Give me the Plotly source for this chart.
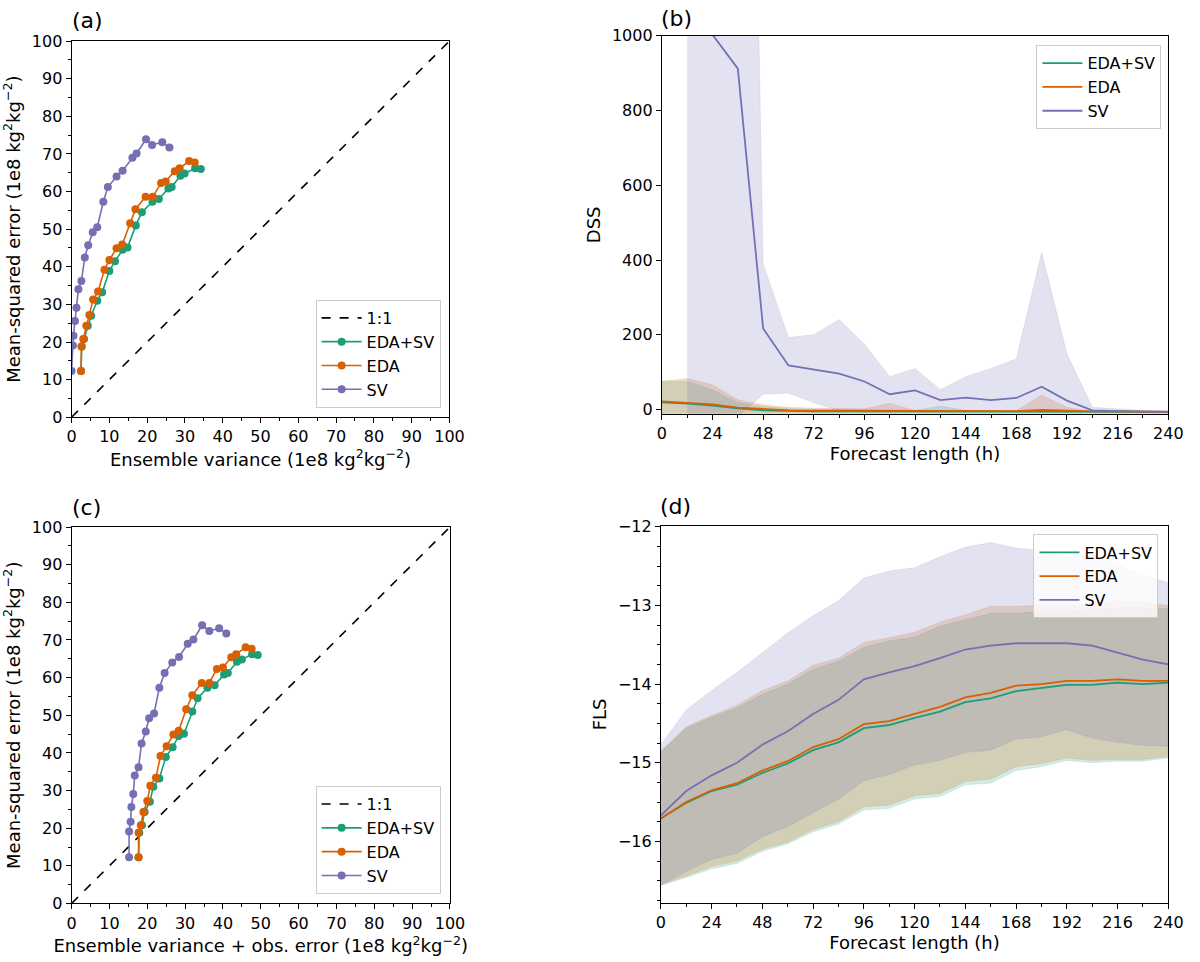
import plotly.graph_objects as go

# forecast lengths (h)
hours = [0, 12, 24, 36, 48, 60, 72, 84, 96, 108, 120, 132, 144, 156, 168, 180, 192, 204, 216, 228, 240]

# (a) mean-squared error vs ensemble variance (1e8 kg2 kg-2)
var_edasv = [2.5, 2.7, 3.3, 4.3, 5.2, 6.8, 8.1, 10.0, 11.5, 13.5, 14.8, 17.0, 18.6, 21.4, 23.1, 25.6, 26.5, 28.8, 29.9, 32.7, 34.2]
mse_edasv = [12.3, 18.8, 20.8, 24.3, 27.0, 31.0, 33.2, 38.9, 41.5, 44.5, 45.1, 51.0, 54.5, 57.3, 58.0, 60.8, 61.2, 64.2, 64.8, 66.2, 66.0]
var_eda = [2.5, 2.6, 3.1, 3.9, 4.7, 5.7, 7.0, 8.7, 10.0, 11.9, 13.4, 15.5, 16.9, 19.6, 21.5, 23.7, 24.9, 27.3, 28.6, 31.1, 32.6]
mse_eda = [12.3, 18.8, 20.8, 24.3, 27.2, 31.3, 33.4, 39.2, 41.8, 44.9, 45.9, 51.6, 55.3, 58.6, 58.6, 62.3, 62.7, 65.4, 66.2, 68.1, 67.7]
var_sv = [0.0, 0.35, 0.5, 0.9, 1.3, 1.8, 2.6, 3.5, 4.4, 5.6, 6.8, 8.4, 9.6, 11.9, 13.5, 16.1, 17.2, 19.7, 21.3, 24.0, 25.9]
mse_sv = [12.3, 19.1, 21.7, 25.6, 29.1, 34.0, 36.2, 42.5, 45.7, 49.2, 50.5, 57.3, 61.2, 64.0, 65.5, 69.0, 70.1, 73.9, 72.4, 73.1, 71.7]

# (c) ensemble variance + obs. error
varobs_edasv = [17.7, 17.9, 18.6, 19.3, 20.7, 21.6, 23.2, 24.9, 26.7, 28.3, 29.7, 31.9, 33.3, 35.9, 37.8, 40.3, 41.3, 43.7, 45.0, 47.7, 49.2]
varobs_eda = [17.7, 17.7, 18.3, 19.0, 20.0, 20.8, 22.3, 23.5, 25.1, 26.9, 28.3, 30.3, 31.9, 34.4, 36.4, 38.4, 40.0, 42.2, 43.5, 46.0, 47.6]
varobs_sv = [15.2, 15.2, 15.6, 15.8, 16.3, 16.7, 17.7, 18.5, 19.6, 20.5, 21.8, 23.2, 24.6, 26.6, 28.4, 30.7, 32.2, 34.5, 36.4, 39.0, 40.9]

one_to_one = [0, 100]

# (b) DSS: median and spread
dss_edasv = [19, 16, 10.5, 3, -2, -4, -4.5, -5, -5, -5, -5.5, -5.5, -5.5, -6, -6, -5.5, -6, -6, -6, -6, -6]
dss_edasv_hi = [76, 76, 53, 19, 9, 3, 1, 0, 0, 0, -2, 9, -2, -3, -3, 0, -3, -4, -4, -4, -4]
dss_edasv_lo = [-20, -20, -20, -20, -20, -20, -20, -20, -20, -20, -20, -20, -20, -20, -20, -20, -20, -20, -20, -20, -20]
dss_eda = [22, 19, 14, 5, 1, -2, -3, -3, -3, -3, -3.5, -4, -4, -4, -4, -1, -4, -5, -5, -6, -6]
dss_eda_hi = [76, 83, 66, 26, 13, 6, 4, 2, 2, 17, -3, -3, -3, -3, -3, 39, 6, -5, -5, -5, -5]
dss_eda_lo = [-20, -20, -20, -20, -20, -20, -20, -20, -20, -20, -20, -20, -20, -20, -20, -20, -20, -20, -20, -20, -20]
dss_sv = [None, 1800, 1003, 912, 217, 118, 108, 96, 75, 41, 51, 25, 32, 25, 31, 61, 24, -2, -4, -5, -6]
dss_sv_hi = [None, 6000, 6000, 4050, 390, 193, 200, 241, 175, 88, 110, 53, 88, 110, 136, 421, 149, 6, 3, -2, -2]
dss_sv_lo = [None, -20, -20, -20, 41, 44, 18, -3, -5, -5, -5, -5, -5, -5, -5, -5, -5, -6, -6, -7, -7]

# (d) FLS: median and spread
fls_edasv = [-15.71, -15.51, -15.36, -15.28, -15.13, -15.01, -14.84, -14.74, -14.56, -14.52, -14.43, -14.35, -14.23, -14.18, -14.09, -14.05, -14.01, -14.01, -13.98, -14.00, -13.98]
fls_edasv_hi = [-14.86, -14.56, -14.42, -14.30, -14.13, -14.00, -13.81, -13.71, -13.53, -13.45, -13.40, -13.26, -13.18, -13.10, -13.10, -13.07, -13.07, -13.04, -13.03, -13.03, -13.04]
fls_edasv_lo = [-16.56, -16.46, -16.35, -16.28, -16.13, -16.03, -15.88, -15.78, -15.60, -15.58, -15.46, -15.43, -15.28, -15.26, -15.10, -15.05, -14.97, -15.00, -14.98, -14.98, -14.94]
fls_eda = [-15.71, -15.50, -15.35, -15.26, -15.10, -14.98, -14.80, -14.70, -14.51, -14.47, -14.38, -14.29, -14.17, -14.11, -14.02, -14.00, -13.96, -13.96, -13.94, -13.96, -13.96]
fls_eda_hi = [-14.85, -14.54, -14.40, -14.27, -14.08, -13.96, -13.76, -13.67, -13.47, -13.41, -13.34, -13.21, -13.12, -13.01, -13.01, -13.00, -13.00, -12.98, -12.94, -12.96, -13.00]
fls_eda_lo = [-16.55, -16.44, -16.32, -16.25, -16.10, -16.01, -15.85, -15.75, -15.56, -15.54, -15.42, -15.39, -15.24, -15.21, -15.05, -15.01, -14.94, -14.97, -14.96, -14.96, -14.92]
fls_sv = [-15.67, -15.36, -15.16, -15.00, -14.77, -14.60, -14.38, -14.20, -13.94, -13.85, -13.77, -13.67, -13.56, -13.51, -13.48, -13.48, -13.48, -13.51, -13.60, -13.69, -13.75]
fls_sv_hi = [-14.77, -14.33, -14.08, -13.85, -13.60, -13.35, -13.13, -12.94, -12.65, -12.56, -12.52, -12.38, -12.26, -12.20, -12.27, -12.30, -12.39, -12.35, -12.48, -12.61, -12.71]
fls_sv_lo = [-16.56, -16.38, -16.23, -16.15, -15.94, -15.81, -15.63, -15.46, -15.23, -15.15, -15.03, -14.97, -14.87, -14.84, -14.70, -14.67, -14.58, -14.69, -14.74, -14.78, -14.79]

GREEN = "#1b9e77"
ORANGE = "#d95f02"
PURPLE = "#7570b3"
FILLS = {GREEN: "rgba(27,158,119,0.2)", ORANGE: "rgba(217,95,2,0.2)", PURPLE: "rgba(117,112,179,0.2)"}
FONT = "DejaVu Sans"

fig = go.Figure()

# scatter panels (a) and (c)
for xa, ya, leg, xs in [("x", "y", "legend", (var_edasv, var_eda, var_sv)),
                        ("x3", "y3", "legend3", (varobs_edasv, varobs_eda, varobs_sv))]:
    fig.add_trace(go.Scatter(x=one_to_one, y=one_to_one, mode="lines", name="1:1",
                             line=dict(color="black", dash="dash", width=1.6),
                             xaxis=xa, yaxis=ya, legend=leg))
    for name, xv, yv, col in [("EDA+SV", xs[0], mse_edasv, GREEN),
                              ("EDA", xs[1], mse_eda, ORANGE),
                              ("SV", xs[2], mse_sv, PURPLE)]:
        fig.add_trace(go.Scatter(x=xv, y=yv, mode="lines+markers", name=name,
                                 line=dict(color=col, width=1.6),
                                 marker=dict(color=col, size=8),
                                 xaxis=xa, yaxis=ya, legend=leg))


def band_panel(xa, ya, leg, series):
    # shaded spread first, median lines on top
    for name, mid, hi, lo, col in series:
        pts = [(h, a, b) for h, a, b in zip(hours, hi, lo) if a is not None]
        bx = [p[0] for p in pts] + [p[0] for p in pts[::-1]]
        by = [p[1] for p in pts] + [p[2] for p in pts[::-1]]
        fig.add_trace(go.Scatter(x=bx, y=by, mode="lines", fill="toself",
                                 fillcolor=FILLS[col], line=dict(width=0.6, color=FILLS[col]),
                                 hoverinfo="skip", showlegend=False,
                                 xaxis=xa, yaxis=ya))
    for name, mid, hi, lo, col in series:
        fig.add_trace(go.Scatter(x=hours, y=mid, mode="lines", name=name,
                                 line=dict(color=col, width=1.8),
                                 xaxis=xa, yaxis=ya, legend=leg))


band_panel("x2", "y2", "legend2", [
    ("EDA+SV", dss_edasv, dss_edasv_hi, dss_edasv_lo, GREEN),
    ("EDA", dss_eda, dss_eda_hi, dss_eda_lo, ORANGE),
    ("SV", dss_sv, dss_sv_hi, dss_sv_lo, PURPLE),
])
band_panel("x4", "y4", "legend4", [
    ("EDA+SV", fls_edasv, fls_edasv_hi, fls_edasv_lo, GREEN),
    ("EDA", fls_eda, fls_eda_hi, fls_eda_lo, ORANGE),
    ("SV", fls_sv, fls_sv_hi, fls_sv_lo, PURPLE),
])

unit = "(1e8 kg<sup>2</sup>kg<sup>\u22122</sup>)"


def axis(domain, rng, dtick, minor, title, anchor, tick0=0, standoff=6):
    return dict(domain=domain, range=rng, dtick=dtick, tick0=tick0, anchor=anchor,
                showline=True, linecolor="black", linewidth=1, mirror=True,
                ticks="outside", ticklen=5, tickcolor="black", showgrid=False, zeroline=False,
                minor=dict(dtick=minor, ticks="outside", ticklen=3, tickcolor="black") if minor else None,
                tickfont=dict(size=16, color="black"),
                title=dict(text=title, font=dict(size=18, color="black"), standoff=standoff))


def px_x(a, b):
    return [a / 1200, b / 1200]


def px_y(top, bottom):
    return [1 - bottom / 962, 1 - top / 962]


legend_style = dict(bgcolor="rgba(255,255,255,0.8)", bordercolor="#cccccc", borderwidth=1,
                    font=dict(size=16, color="black"), tracegroupgap=2, itemwidth=40)

fig.update_layout(
    width=1200, height=962,
    margin=dict(l=0, r=0, t=0, b=0),
    paper_bgcolor="white", plot_bgcolor="white",
    font=dict(family=FONT, color="black"),
    xaxis=axis(px_x(67.7, 452), [0, 100], 10, 5, "Ensemble variance " + unit, "y"),
    yaxis=axis(px_y(32.7, 416.5), [0, 100], 10, 5, "Mean-squared error " + unit, "x"),
    xaxis2=axis(px_x(668, 1183), [0, 240], 24, 12, "Forecast length (h)", "y2", standoff=4),
    yaxis2=axis(px_y(27.3, 413), [-11.5, 1000], 200, None, "DSS", "x2"),
    xaxis3=axis(px_x(67.7, 452.5), [0, 100], 10, 5, "Ensemble variance + obs. error " + unit, "y3"),
    yaxis3=axis(px_y(528.5, 912.5), [0, 100], 10, 5, "Mean-squared error " + unit, "x3"),
    xaxis4=axis(px_x(667, 1183), [0, 240], 24, 12, "Forecast length (h)", "y4", standoff=4),
    yaxis4=axis(px_y(527.5, 911.7), [-16.78, -11.99], 1, 0.25, "FLS", "x4", tick0=-16),
    legend=dict(x=443 / 1200, y=1 - 407 / 962, xanchor="right", yanchor="bottom", **legend_style),
    legend2=dict(x=1176 / 1200, y=1 - 37 / 962, xanchor="right", yanchor="top", **legend_style),
    legend3=dict(x=443 / 1200, y=1 - 903 / 962, xanchor="right", yanchor="bottom", **legend_style),
    legend4=dict(x=1173 / 1200, y=1 - 536 / 962, xanchor="right", yanchor="top", **legend_style),
    showlegend=True,
)

for label, x, y in [("(a)", 66, 27), ("(b)", 665, 24), ("(c)", 66, 523), ("(d)", 664, 522)]:
    fig.add_annotation(text=label, x=x / 1200, y=1 - y / 962, xref="paper", yref="paper",
                       xanchor="left", yanchor="bottom", showarrow=False,
                       font=dict(size=22, color="black"))

fig.write_html("out.html", config={"displayModeBar": False},
               post_script="document.body.style.margin='0';document.body.style.overflow='hidden';")
